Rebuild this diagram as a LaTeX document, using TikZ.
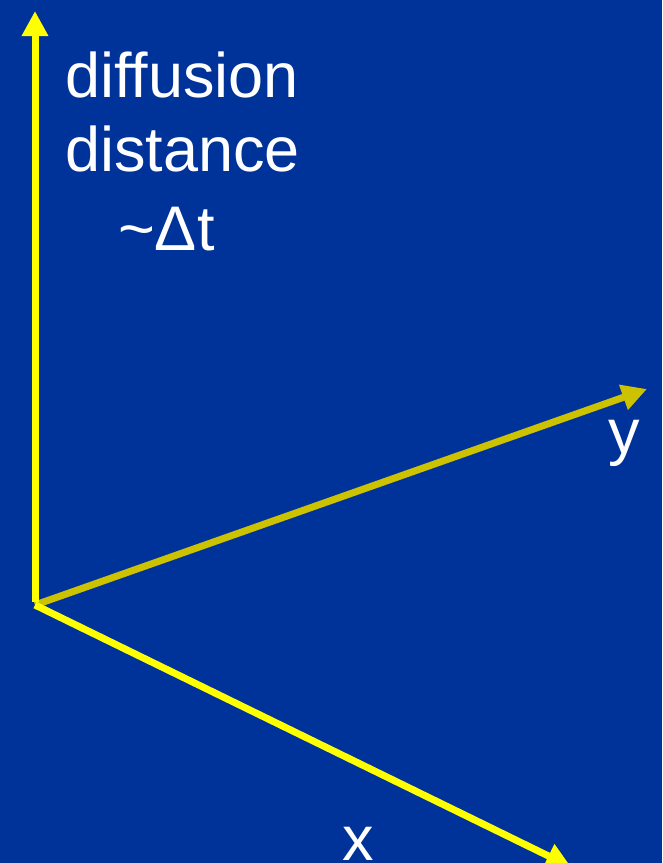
\documentclass[tikz,border=0pt]{standalone}
\usepackage{fontspec}
\setmainfont[Ligatures=NoCommon]{Liberation Sans}
\usetikzlibrary{arrows.meta}
\definecolor{bg}{RGB}{0,51,153}
\definecolor{axyel}{RGB}{255,255,0}
\definecolor{axolive}{RGB}{204,194,0}
\tikzset{
  axis/.style={line width=7pt, -{Triangle[length=25pt,width=25pt]}},
  lbl/.style={text=white, font=\fontsize{63pt}{75pt}\selectfont, inner sep=0pt, anchor=base west}
}
\begin{document}
\begin{tikzpicture}[x=1pt,y=-1pt]
\fill[bg] (0,0) rectangle (662,863);
\useasboundingbox (0,0) rectangle (662,863);
\clip (0,0) rectangle (662,863);
\coordinate (o) at (35,605);
\coordinate (ztip) at (35,11);
\coordinate (ytip) at (647,389);
\coordinate (xtip) at (571,867);
\draw[axis, axolive] (o) -- (ytip);
\draw[axis, axyel] ([yshift=3.5]o) -- (ztip);
\draw[axis, axyel] (o) -- (xtip);
\node[lbl] (d1) at (65,97) {diffusion};
\node[lbl] (d2) at (65,171) {distance};
\node[lbl] (d3) at (118,250) {\textasciitilde Δt};
\node[lbl] (ylab) at (608,453) {y};
\node[lbl] (xlab) at (342,860) {x};
\end{tikzpicture}
\end{document}
